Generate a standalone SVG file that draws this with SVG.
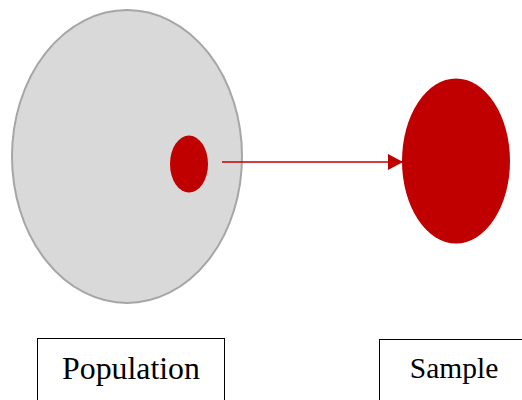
<svg xmlns="http://www.w3.org/2000/svg" width="522" height="400" viewBox="0 0 522 400">
<style>
.lbl{font-family:"Liberation Serif","Times New Roman",serif;fill:#000;text-anchor:middle}
.box{fill:#fff;stroke:#000;stroke-width:1}
.red{fill:#c00000}
</style>
<defs>
<marker id="ah" markerWidth="15" markerHeight="16" refX="15" refY="8" orient="auto" markerUnits="userSpaceOnUse">
<path d="M0,0 L15,8 L0,16 Z" fill="#c00000"/>
</marker>
</defs>
<rect width="522" height="400" fill="#fff"/>
<g id="population">
<ellipse cx="127" cy="156.5" rx="115" ry="146.5" fill="#d9d9d9" stroke="#a6a6a6" stroke-width="2"/>
<ellipse class="red" cx="189" cy="164" rx="19" ry="28.5"/>
</g>
<g id="sample">
<ellipse class="red" cx="456" cy="161" rx="54" ry="82.5"/>
</g>
<g id="connectors">
<line x1="222" y1="162" x2="403" y2="162" stroke="#c00000" stroke-width="1.5" marker-end="url(#ah)"/>
</g>
<g id="population-label">
<rect class="box" x="37.5" y="338.5" width="187" height="70"/>
<text class="lbl" x="131" y="379" font-size="31.8">Population</text>
</g>
<g id="sample-label">
<rect class="box" x="379.5" y="339.5" width="150" height="70"/>
<text class="lbl" x="454" y="378" font-size="29.5">Sample</text>
</g>
</svg>
